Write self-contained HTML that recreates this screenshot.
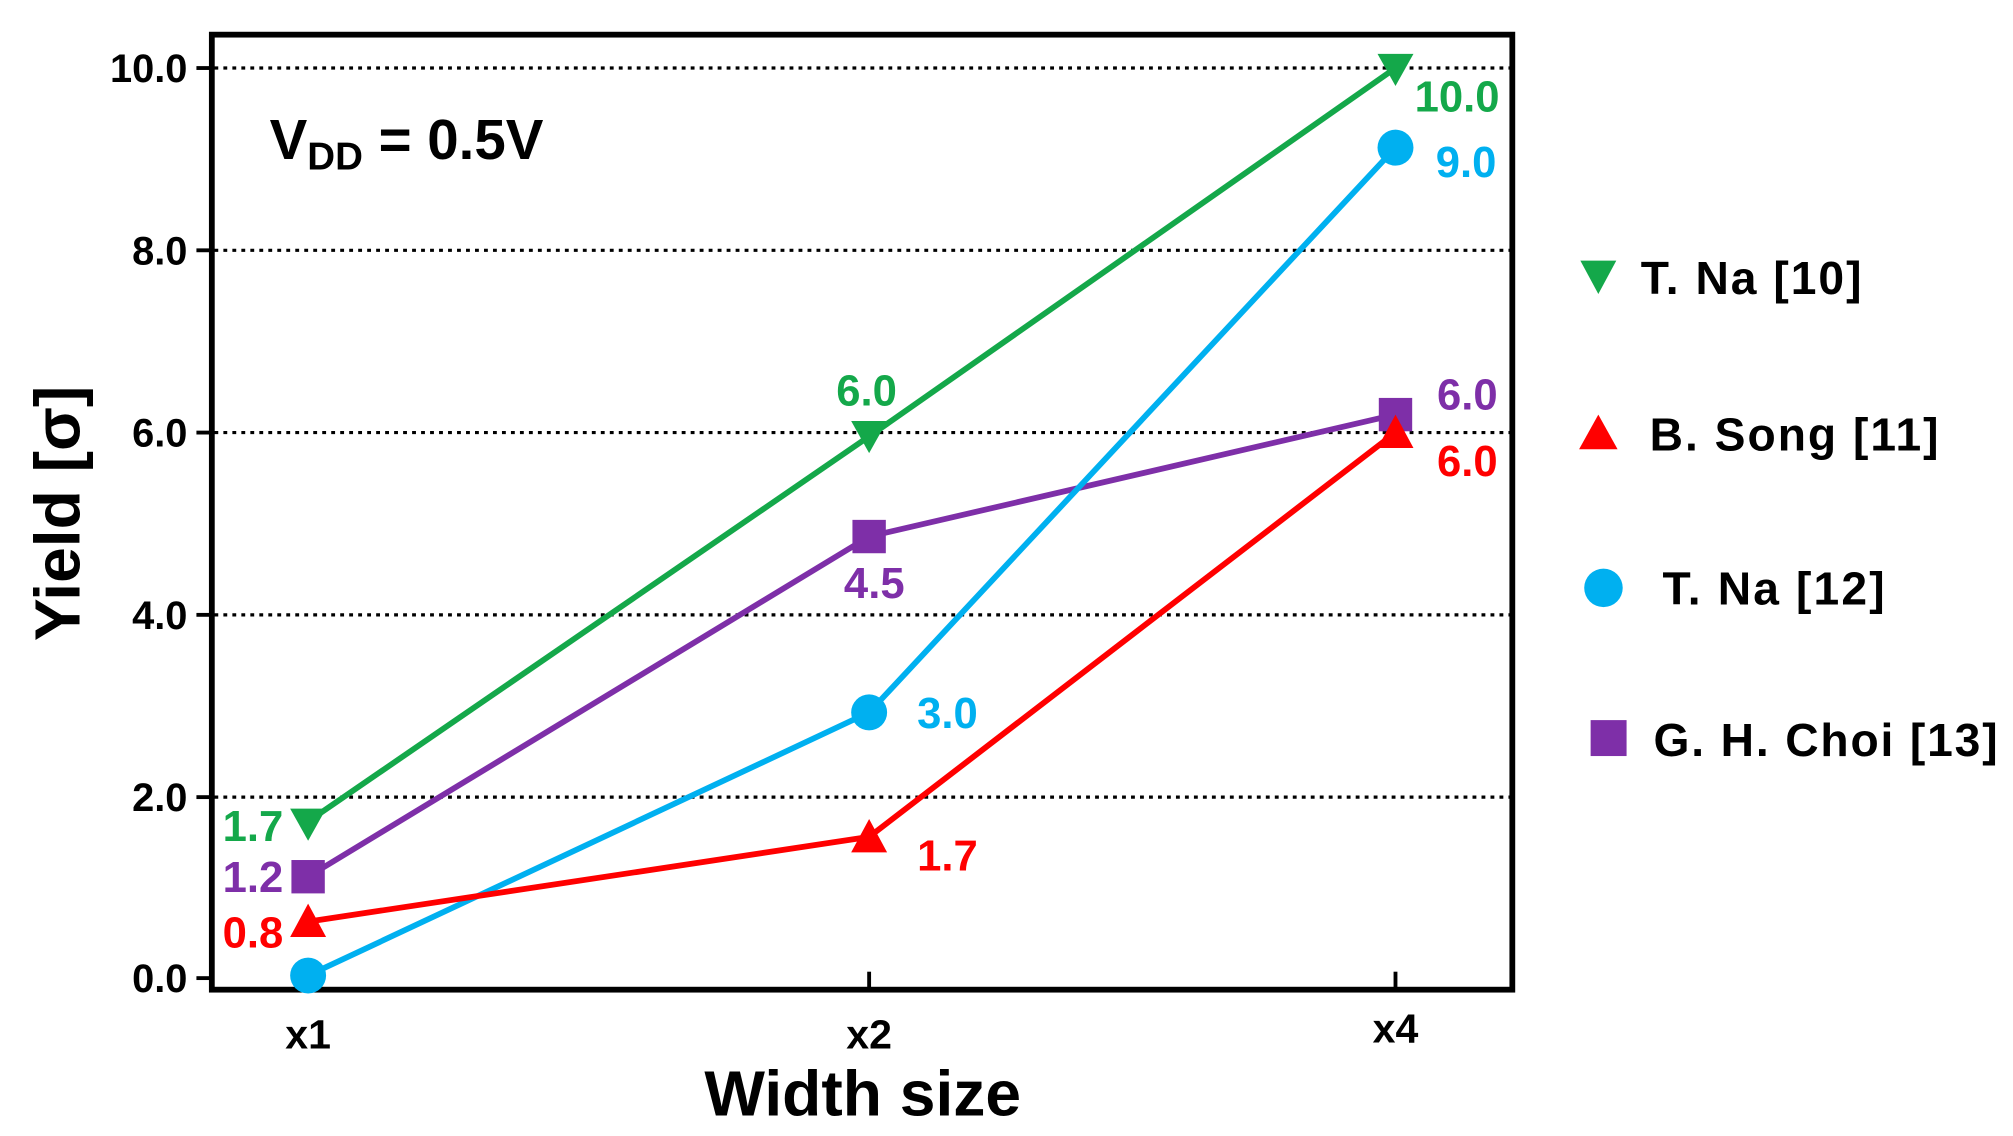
<!DOCTYPE html>
<html><head><style>body{margin:0;background:#fff}svg{display:block}</style></head><body>
<svg width="2013" height="1136" viewBox="0 0 1568 885" preserveAspectRatio="none" xmlns="http://www.w3.org/2000/svg" font-family="Liberation Sans, Arial, sans-serif" font-weight="bold">
<g stroke="#000" stroke-width="2.5" stroke-dasharray="3,4">
<line x1="167" y1="53" x2="1176" y2="53"/><line x1="167" y1="195" x2="1176" y2="195"/><line x1="167" y1="337" x2="1176" y2="337"/><line x1="167" y1="479" x2="1176" y2="479"/><line x1="167" y1="621" x2="1176" y2="621"/>
</g>
<rect x="165" y="27" width="1013" height="744" fill="none" stroke="#000" stroke-width="4.5"/>
<g stroke="#000" stroke-width="3">
<line x1="153" y1="53" x2="165" y2="53"/><line x1="153" y1="195" x2="165" y2="195"/><line x1="153" y1="337" x2="165" y2="337"/><line x1="153" y1="479" x2="165" y2="479"/><line x1="153" y1="621" x2="165" y2="621"/><line x1="153" y1="762" x2="165" y2="762"/>
<line x1="240" y1="771" x2="240" y2="757"/><line x1="677" y1="771" x2="677" y2="757"/><line x1="1087" y1="771" x2="1087" y2="757"/>
</g>
<g font-size="31" text-anchor="end">
<text x="146" y="64">10.0</text><text x="146" y="206">8.0</text><text x="146" y="348">6.0</text><text x="146" y="490">4.0</text><text x="146" y="632">2.0</text><text x="146" y="773">0.0</text>
</g>
<g font-size="32" text-anchor="middle">
<text x="240" y="817">x1</text><text x="677" y="817">x2</text><text x="1087" y="812">x4</text>
</g>
<text x="672" y="869" font-size="50" text-anchor="middle">Width size</text>
<text transform="translate(62,400) rotate(-90)" font-size="50" text-anchor="middle">Yield [σ]</text>
<text x="210" y="124" font-size="44">V<tspan font-size="30" dy="8">DD</tspan><tspan dy="-8"> = 0.5V</tspan></text>
<g fill="none" stroke-width="4.5">
<polyline points="240,640 677,340 1087,53" stroke="#14a84a"/>
<polyline points="240,683 677,418 1087,323" stroke="#7e2fa8"/>
<polyline points="240,760 677,555 1087,115" stroke="#00b0f0"/>
<polyline points="240,718 677,652 1087,337" stroke="#ff0000"/>
</g>
<g fill="#14a84a"><polygon points="226,630 254,630 240,655"/><polygon points="663,328 691,328 677,353"/><polygon points="1073,42 1101,42 1087,67"/><polygon points="1231,203 1259,203 1245,229"/></g>
<g fill="#7e2fa8"><rect x="227" y="670" width="26" height="26"/><rect x="664" y="405" width="26" height="26"/><rect x="1074" y="310" width="26" height="26"/><rect x="1239" y="561" width="28" height="28"/></g>
<g fill="#00b0f0"><circle cx="240" cy="760" r="14"/><circle cx="677" cy="555" r="14"/><circle cx="1087" cy="115" r="14"/><circle cx="1249" cy="458" r="15"/></g>
<g fill="#ff0000"><polygon points="240,704 254,730 226,730"/><polygon points="677,638 691,664 663,664"/><polygon points="1087,323 1101,349 1073,349"/><polygon points="1245,323 1260,350 1230,350"/></g>
<g font-size="34">
<text x="197" y="655" fill="#14a84a" text-anchor="middle">1.7</text><text x="675" y="316" fill="#14a84a" text-anchor="middle">6.0</text><text x="1135" y="87" fill="#14a84a" text-anchor="middle">10.0</text>
<text x="197" y="695" fill="#7e2fa8" text-anchor="middle">1.2</text><text x="681" y="466" fill="#7e2fa8" text-anchor="middle">4.5</text><text x="1143" y="319" fill="#7e2fa8" text-anchor="middle">6.0</text>
<text x="738" y="567" fill="#00b0f0" text-anchor="middle">3.0</text><text x="1142" y="138" fill="#00b0f0" text-anchor="middle">9.0</text>
<text x="197" y="738" fill="#ff0000" text-anchor="middle">0.8</text><text x="738" y="678" fill="#ff0000" text-anchor="middle">1.7</text><text x="1143" y="371" fill="#ff0000" text-anchor="middle">6.0</text>
</g>
<g font-size="36">
<text x="1278" y="229" textLength="172">T. Na [10]</text><text x="1285" y="351" textLength="225">B. Song [11]</text><text x="1295" y="471" textLength="173">T. Na [12]</text><text x="1288" y="589" textLength="268">G. H. Choi [13]</text>
</g>
</svg>
</body></html>
